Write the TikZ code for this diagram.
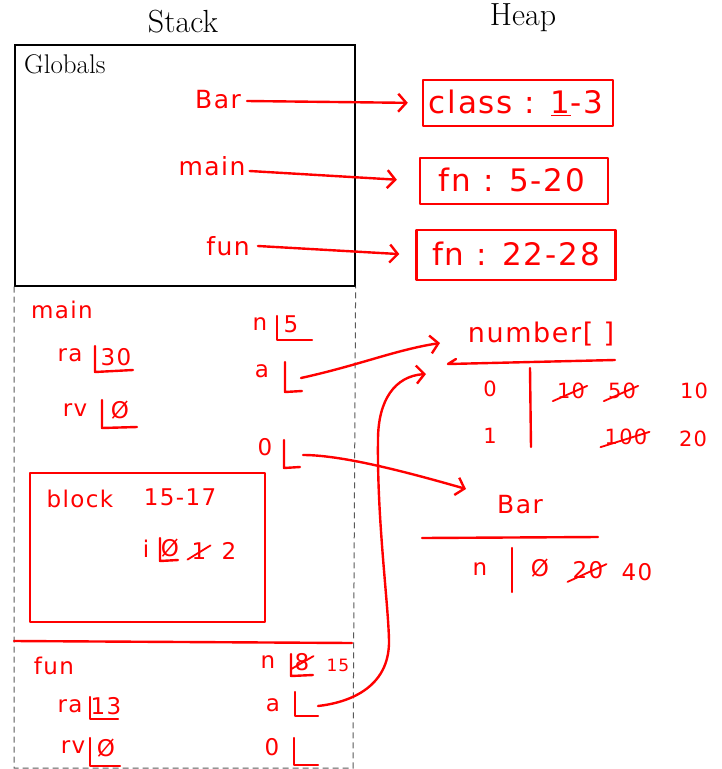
\documentclass[tikz,border=0pt]{standalone}
\usepackage{fontspec}
\usetikzlibrary{arrows.meta}
\newfontfamily\hand{DejaVu Sans}[LetterSpace=6]
\begin{document}
\begin{tikzpicture}[x=1pt,y=-1pt,
  ink/.style={draw=red, line width=2.4pt, line cap=round, line join=round},
  arr/.style={ink, -{Straight Barb[length=8pt,width=18pt]}},
  hw/.style={text=red, inner sep=0pt, font=\hand\fontsize{23}{26}\selectfont},
  hwl/.style={hw, font=\hand\fontsize{25}{28}\selectfont},
  hwn/.style={hw, font=\hand\fontsize{27}{30}\selectfont},
  hwb/.style={hw, font=\hand\fontsize{31}{34}\selectfont},
  hws/.style={hw, font=\hand\fontsize{17}{20}\selectfont},
  hwr/.style={hw, font=\hand\fontsize{21}{24}\selectfont},
  heapbox/.style={ink, minimum width=#1, minimum height=46pt, inner sep=0pt},
  title/.style={font=\fontsize{32}{36}\selectfont, inner sep=0pt}]
\useasboundingbox (0,0) rectangle (721,769);

% titles
\node[title] (stack) at (183,22) {Stack};
\node[title] (heap) at (523,18) {Heap};

% globals
\node[draw, line width=1.6pt, minimum width=340pt, minimum height=241pt, anchor=north west, inner sep=0pt] (globals) at (14,44) {};
\node[anchor=west, inner sep=0pt, font=\fontsize{27}{30}\selectfont] (glab) at (24,64) {Globals};
\draw[gray!70!black, line width=1pt, dash pattern=on 6pt off 4pt] (globals.south west) -- (14,768) -- (353,768) -- (globals.south east);

\node[hwl] (gbar) at (218,100) {Bar};
\node[hwl] (gmain) at (212,166) {main};
\node[hwl] (gfun) at (228,246) {fun};

\node[heapbox=190pt] (b1) at (518,103) {};
\node[hwb] (t1) at (516,103) {class : \underline{1}-3};
\node[heapbox=188pt] (b2) at (514,181) {};
\node[hwb] (t2) at (512,180) {fn : 5-20};
\node[heapbox=199pt, minimum height=50pt] (b3) at (516,255) {};
\node[hwb] (t3) at (516,254) {fn : 22-28};

\draw[arr, shorten >=14pt] (gbar.east) ++(6,1) -- (b1.west);
\draw[arr, shorten >=22pt] (gmain.east) ++(4,5) -- (b2.west);
\draw[arr, shorten >=16pt] (gfun.east) ++(8,0) -- (b3.west);

% main frame
\node[hw] (fmain) at (62,310) {main};
\node[hw] (mra) at (70,355) {ra};
\draw[ink] (95,346) -- (95,372) -- (133,370);
\node[hw] (mra30) at (116,357) {30};
\node[hw] (mrv) at (75,410) {rv};
\draw[ink] (102,400) -- (102,428) -- (137,427);
\node[hw] (mrvv) at (120,410) {Ø};
\node[hw] (mn) at (260,324) {n};
\draw[ink] (277,316) -- (277,340) -- (312,340);
\node[hw] (mn5) at (291,324) {5};
\node[hw] (ma) at (262,371) {a};
\draw[ink] (285,362) -- (285,392) -- (302,391);
\coordinate (maslot) at (301,378);
\node[hw] (mo) at (265,447) {0};
\draw[ink] (284,440) -- (284,468) -- (300,467);
\coordinate (moslot) at (303,455);

% block
\draw[ink] (30,473) rectangle (265,622);
\node[hw] (blk) at (80,499) {block};
\node[hw] (blkl) at (180,497) {15-17};
\node[hw] (bi) at (146,549) {i};
\draw[ink] (160,538) -- (160,561) -- (178,560);
\node[hw] (biv) at (170,548) {Ø};
\node[hw] (bi1) at (199,551) {1};
\draw[ink, line width=1.8pt] ([xshift=-4pt]bi1.south west) -- ([xshift=4pt,yshift=-3pt]bi1.north east);
\node[hw] (bi2) at (229,551) {2};

% separator
\draw[ink] (14,641) -- (352,643);

% fun frame
\node[hw] (ffun) at (54,666) {fun};
\node[hw] (fra) at (70,706) {ra};
\draw[ink] (90,697) -- (90,719) -- (118,719);
\node[hw] (fra13) at (106,706) {13};
\node[hw] (frv) at (73,747) {rv};
\draw[ink] (90,738) -- (90,766) -- (120,766);
\node[hw] (frvv) at (106,748) {Ø};
\node[hw] (fn) at (268,662) {n};
\draw[ink] (291,654) -- (291,676) -- (313,675);
\node[hw] (fn8) at (302,662) {8};
\draw[ink, line width=1.8pt] ([xshift=-3pt,yshift=2pt]fn8.south west) -- ([xshift=4pt,yshift=-3pt]fn8.north east);
\node[hws] (fn15) at (338,665) {15};
\node[hw] (fa) at (273,705) {a};
\draw[ink] (295,692) -- (295,716) -- (318,716);
\coordinate (faslot) at (318,706);
\node[hw] (fo) at (272,747) {0};
\draw[ink] (294,738) -- (294,765) -- (318,765);

% heap: number[]
\node[hwn] (arr) at (541,334) {number[ ]};
\draw[ink] (456,359) -- (448,364) -- (615,360);
\draw[ink] (530,368) -- (531,447);
\node[hwr] (r0) at (490,389) {0};
\node[hwr] (r0a) at (571,391) {10};
\draw[ink, line width=1.8pt] ([xshift=-4pt,yshift=-2pt]r0a.south west) -- ([xshift=2pt,yshift=-3pt]r0a.north east);
\node[hwr] (r0b) at (622,391) {50};
\draw[ink, line width=1.8pt] ([xshift=-4pt,yshift=-2pt]r0b.south west) -- ([xshift=2pt,yshift=-3pt]r0b.north east);
\node[hwr] (r0c) at (694,391) {10};
\node[hwr] (r1) at (490,436) {1};
\node[hwr] (r1a) at (626,437) {100};
\draw[ink, line width=1.8pt] ([xshift=-4pt,yshift=-2pt]r1a.south west) -- ([xshift=2pt,yshift=-3pt]r1a.north east);
\node[hwr] (r1b) at (693,439) {20};
\coordinate (arrin1) at (440,343);
\coordinate (arrin2) at (426,374);

% heap: Bar
\node[hwl] (bar) at (520,505) {Bar};
\coordinate (barin) at (466,489);
\draw[ink] (422,538) -- (598,537);
\draw[ink] (512,548) -- (512,592);
\node[hw] (bn) at (480,569) {n};
\node[hw] (bnv) at (540,568) {Ø};
\node[hw] (bn20) at (588,570) {20};
\draw[ink, line width=1.8pt] ([xshift=-5pt,yshift=-3pt]bn20.south west) -- ([xshift=3pt,yshift=-3pt]bn20.north east);
\node[hw] (bn40) at (637,572) {40};

% pointers
\draw[arr] (maslot) .. controls (360,365) and (395,350) .. (arrin1);
\draw[arr] (moslot) .. controls (340,455) and (400,470) .. (barin);
\draw[arr] (faslot) .. controls (345,703) and (390,690) .. (389,640)
  .. controls (388,600) and (377,520) .. (378,440)
  .. controls (378,400) and (395,376) .. (arrin2);
\end{tikzpicture}
\end{document}
